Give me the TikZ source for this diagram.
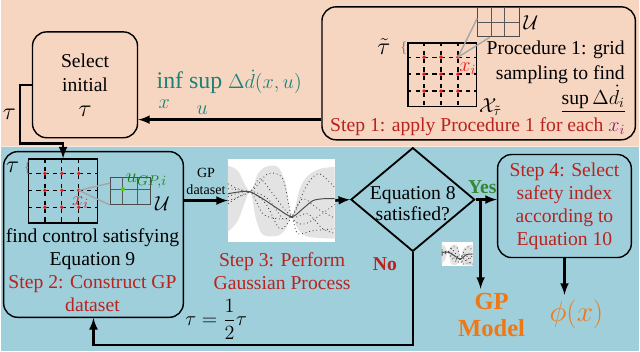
\documentclass[tikz,border=0pt]{standalone}
\usepackage{amsmath}
\usepackage{fontspec}
\setmainfont{Liberation Serif}
\usetikzlibrary{positioning,shapes.geometric}

\definecolor{peach}{RGB}{246,213,193}
\definecolor{bandblue}{RGB}{159,207,219}
\definecolor{stepred}{RGB}{185,35,30}
\definecolor{dotred}{RGB}{235,25,25}
\definecolor{infteal}{RGB}{28,130,120}
\definecolor{gpgreen}{RGB}{20,130,20}
\definecolor{yesgreen}{RGB}{50,135,50}
\definecolor{modelorange}{RGB}{240,120,20}
\definecolor{xipurple}{RGB}{140,30,110}

\tikzset{
  flow/.style={line width=1.8pt,-latex},
  stepbox/.style={draw,line width=1pt,rounded corners=10pt,inner sep=0pt},
  steptext/.style={text=stepred,align=center},
  gridbox/.style={draw,line width=1pt,inner sep=0pt,minimum width=1.725cm,minimum height=1.6cm},
  ubox/.style={draw=gray!60!black,line width=0.7pt,inner sep=0pt},
  ugrid/.style={gray!70!black,line width=0.5pt},
  pointer/.style={gray!70,line width=1pt},
  bigmath/.style={font=\fontsize{17}{19}\selectfont},
  boldlabel/.style={font=\fontsize{14}{16.5}\selectfont\bfseries}
}

% sketch of a GP posterior, drawn in a 107 x 83 box
\newcommand{\gpsketch}{%
  \begin{scope}
    \clip (0,0) rectangle (107,83);
    \fill[gray!22] plot[smooth] coordinates {(0,7) (10,12) (22,33) (30,15) (38,8) (50,8) (58,25) (64,58) (72,30) (80,17) (92,10) (108,8)}
      -- plot[smooth] coordinates {(108,80) (80,78) (70,70) (64,58) (58,70) (50,77) (35,76) (28,60) (22,33) (10,62) (0,73)} -- cycle;
    \draw[gray!50!black,dotted,line width=0.6pt] plot[smooth] coordinates {(0,25) (22,33) (40,15) (55,20) (64,58) (78,65) (108,45)};
    \draw[gray!50!black,dotted,line width=0.6pt] plot[smooth] coordinates {(0,30) (22,33) (38,45) (52,70) (64,58) (80,25) (92,15) (108,30)};
    \draw[gray!50!black,dotted,line width=0.6pt] plot[smooth] coordinates {(0,38) (22,33) (35,55) (50,60) (64,58) (75,40) (90,50) (108,60)};
    \draw[gray!50!black,dotted,line width=0.6pt] plot[smooth] coordinates {(0,42) (22,33) (32,20) (45,35) (64,58) (80,55) (95,70) (108,75)};
    \draw[gray!50!black,dotted,line width=0.6pt] plot[smooth] coordinates {(0,45) (22,33) (40,40) (55,60) (64,58) (70,75) (85,72) (108,70)};
    \draw[black!70,line width=0.7pt] plot[smooth] coordinates {(0,35) (12,33) (22,33) (35,40) (50,50) (64,58) (75,50) (85,42) (95,40) (108,40)};
  \end{scope}}

\begin{document}
\begin{tikzpicture}[x=0.025cm,y=-0.025cm,font=\fontsize{14}{16.5}\selectfont]
\def\samplegrid{
  \foreach \k in {17,34,51}
  {\draw[dashed,line width=0.9pt] (\k,0)--(\k,64);
   \draw[dashed,line width=0.9pt] (0,\k-2)--(69,\k-2);}
  \foreach \i in {17,34,51}
  {\foreach \j in {15,32,49}
    {\fill[dotred] (\i,\j) circle (1.4pt);}}
}
% background bands
\fill[peach] (0,0) rectangle (640,147);
\fill[bandblue] (0,147) rectangle (640,352);
\draw[white,opacity=0.5,line width=1pt] (0,147)--(640,147);
\useasboundingbox (0,0) rectangle (640,352);

% boxes
\node[stepbox,minimum width=2.63cm,minimum height=2.65cm,align=center,font=\fontsize{14}{17.5}\selectfont]
  (select) at (84.5,85) {Select\\initial\\{\fontsize{18}{18}\selectfont$\tau$}};
\node[stepbox,minimum width=7.85cm,minimum height=3.33cm] (proc) at (479,73.5) {};
\node[stepbox,minimum width=4.5cm,minimum height=4.15cm] (step2) at (93,235) {};
\node[stepbox,steptext,minimum width=3.35cm,minimum height=2.58cm]
  (step4) at (565,206.5) {Step 4: Select\\safety index\\according to\\Equation 10};
\node[diamond,draw,line width=1.3pt,minimum width=3.1cm,minimum height=2.6cm,inner sep=0pt] (cond) at (413,200) {};
\node[align=center,font=\fontsize{14}{15.5}\selectfont] (condtext) at ([yshift=-0.1cm]cond) {Equation 8\\satisfied?};
\node[fill=white,minimum width=2.675cm,minimum height=2.075cm,inner sep=0pt] (gpimg) at (281.5,201) {};
\begin{scope}[shift={(gpimg.north west)}]
  \gpsketch
\end{scope}

% step 1: grid sampling
\node[gridbox] (grid1) at (442.5,75) {};
\begin{scope}[shift={(grid1.north west)}]
  \samplegrid
  \coordinate (xi1) at (51,15);
\end{scope}
\node[ubox,minimum width=1.05cm,minimum height=0.725cm] (ubox1) at (499,22.5) {};
\begin{scope}[shift={(ubox1.north west)}]
  \draw[ugrid] (14,0)--(14,29) (27,0)--(27,29) (0,15)--(42,15);
\end{scope}
\draw[pointer] (xi1)--([yshift=0.1cm]ubox1.west);
\draw[pointer] (xi1)--([xshift=-0.225cm]ubox1.south);
\node[right=-1pt of ubox1] (ulabel1) {$\mathcal{U}$};
\node[anchor=west,inner sep=1pt] (xlabel1) at (grid1.south east) {$\mathcal{X}_{\tilde{\tau}}$};
\node[bigmath,inner sep=0pt] (tautilde) at (384,47) {$\tilde{\tau}$};
\node[text=gray,font=\fontsize{11}{11}\selectfont,inner sep=0pt] (brace1) at (404,48) {\{};
\node[text=dotred] (xi1label) at (468,69) {$x_i$};
\node[align=right,anchor=east,inner sep=1pt,font=\fontsize{14}{17.5}\selectfont]
  (proctext) at (627,77) {Procedure 1: grid\\sampling to find\\$\underline{\sup\Delta\dot{d}_i}$};
\node[text=stepred] (step1text) at (478,127) {Step 1: apply Procedure 1 for each \textcolor{xipurple}{$x_i$}};

% step 2: control satisfying equation 9
\node[gridbox] (grid2) at (62.5,191.5) {};
\begin{scope}[shift={(grid2.north west)}]
  \samplegrid
  \coordinate (xi2) at (51,32);
\end{scope}
\node[ubox,minimum width=1cm,minimum height=0.675cm] (ubox2) at (130,191.5) {};
\begin{scope}[shift={(ubox2.north west)}]
  \draw[ugrid] (12,0)--(12,27) (27,0)--(27,27) (0,12)--(40,12);
  \fill[green!70!black!60!lime] (13,12) circle (1.5pt);
\end{scope}
\draw[pointer] (xi2)--([yshift=0.2cm]ubox2.west);
\draw[pointer] (xi2)--(ubox2.south west);
\node[text=gpgreen] (ugp) at (146,181) {$u_{GP,i}$};
\node (ulabel2) at (162,204) {$\mathcal{U}$};
\node[bigmath,inner sep=1pt] (tau2) at (12,168) {$\tau$};
\node[text=gray,font=\fontsize{11}{11}\selectfont,inner sep=0pt] (brace2) at (27,169) {\{};
\node[text=dotred] (xi2label) at (80,203) {$x_i$};
\node[align=center] (step2text) at (92,271) {find control satisfying\\Equation 9\\\textcolor{stepred}{Step 2: Construct GP}\\\textcolor{stepred}{dataset}};

% step 3 and outputs
\node[steptext] (step3text) at (282,271.5) {Step 3: Perform\\Gaussian Process};
\node (halve) at (216,320) {$\tau=\dfrac{1}{2}\tau$};
\node[text=stepred,boldlabel] (nolabel) at (385,265) {No};
\node[text=modelorange,font=\bfseries\fontsize{17.5}{19}\selectfont,align=center] (gpmodel) at (492,316) {GP\\Model};
\node[text=modelorange,font=\fontsize{20}{22}\selectfont] (phi) at (577,315) {$\phi(x)$};
\begin{scope}[shift={(442,243)},scale=0.29]
  \fill[white] (0,0) rectangle (107,83);
  \gpsketch
\end{scope}

% worst case label
\node[text=infteal,bigmath,inner sep=0pt] (infsup) at (229,82) {inf sup {\fontsize{14.5}{16}\selectfont$\Delta\dot{d}(x,u)$}};
\node[text=infteal,inner sep=0pt] (infx) at (164,104) {$x$};
\node[text=infteal,inner sep=0pt] (supu) at (202,110) {$u$};

% connectors
\draw[flow] ([yshift=-1.16cm]proc.west)--([yshift=-1.16cm]proc.west -| select.east);
\draw[flow] (select.west)--++(-12,0)--++(0,59)
  node[midway,left,inner sep=2pt,bigmath] {$\tau$} -| (grid2.north);
\draw[flow] (step2.east |- gpimg.west)--(gpimg.west)
  node[midway,above,align=center,font=\fontsize{10}{12}\selectfont] {GP\\dataset};
\draw[flow] (gpimg.east)--(cond.west);
\draw[flow] (cond.east)--(cond.east -| step4.west)
  node[midway,above,text=yesgreen,boldlabel,xshift=-0.1cm] {Yes};
\coordinate (fork) at ([xshift=0.125cm]cond.east);
\draw[flow] (fork)--(fork |- gpmodel.north);
\draw[flow] (step4.south)--(step4.south |- phi.north);
\draw[flow] (cond.south)--++(0,93) -| (step2.south);
\end{tikzpicture}
\end{document}
